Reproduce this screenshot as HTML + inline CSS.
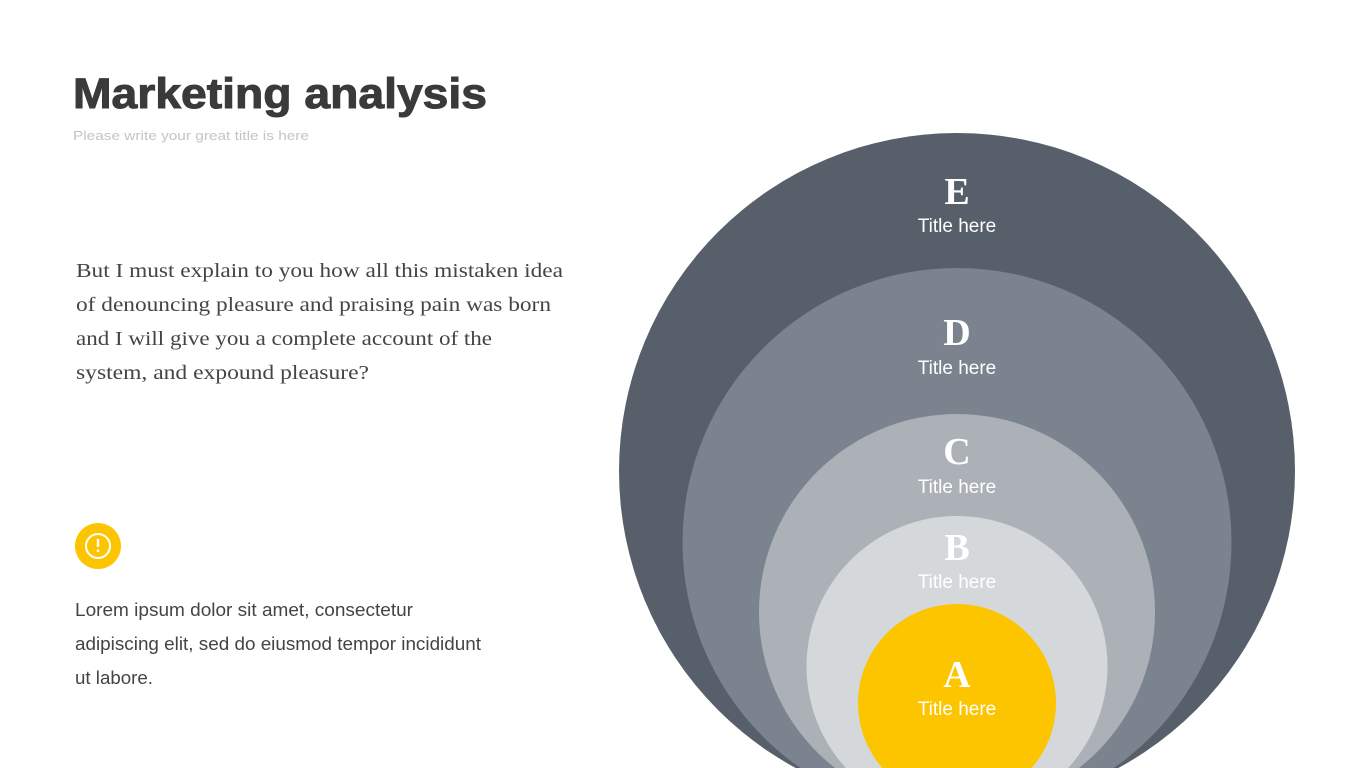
<!DOCTYPE html>
<html><head><meta charset="utf-8"><style>
html,body{margin:0;padding:0;background:#fff;width:1365px;height:768px;overflow:hidden}
svg{display:block}
</style></head><body>
<svg width="1365" height="768" viewBox="0 0 1365 768" xmlns="http://www.w3.org/2000/svg">
<text x="73" y="108" font-family="Liberation Sans, sans-serif" font-weight="bold" font-size="43" fill="#3a3a3a" stroke="#3a3a3a" stroke-width="1" textLength="414" lengthAdjust="spacingAndGlyphs">Marketing analysis</text>
<text x="73" y="140" font-family="Liberation Sans, sans-serif" font-size="13" fill="#c4c4c4" textLength="236" lengthAdjust="spacingAndGlyphs">Please write your great title is here</text>
<g font-family="Liberation Serif, serif" font-size="20" fill="#444">
<text x="76" y="277" textLength="487" lengthAdjust="spacingAndGlyphs">But I must explain to you how all this mistaken idea</text>
<text x="76" y="311" textLength="475" lengthAdjust="spacingAndGlyphs">of denouncing pleasure and praising pain was born</text>
<text x="76" y="345" textLength="416" lengthAdjust="spacingAndGlyphs">and I will give you a complete account of the</text>
<text x="76" y="379" textLength="293" lengthAdjust="spacingAndGlyphs">system, and expound pleasure?</text>
</g>
<circle cx="98" cy="546" r="23" fill="#fdc500"/>
<circle cx="98" cy="546" r="12" fill="none" stroke="#fff" stroke-width="2"/>
<rect x="96.8" y="539" width="2.4" height="8" fill="#fff"/>
<rect x="96.8" y="549.5" width="2.4" height="2.5" fill="#fff"/>
<g font-family="Liberation Sans, sans-serif" font-size="18" fill="#444">
<text x="75" y="616" textLength="338" lengthAdjust="spacingAndGlyphs">Lorem ipsum dolor sit amet, consectetur</text>
<text x="75" y="650" textLength="406" lengthAdjust="spacingAndGlyphs">adipiscing elit, sed do eiusmod tempor incididunt</text>
<text x="75" y="684" textLength="78" lengthAdjust="spacingAndGlyphs">ut labore.</text>
</g>
<circle cx="957" cy="471" r="338" fill="#57606a"/>
<circle cx="957" cy="542.5" r="274.5" fill="#7b848e"/>
<circle cx="957" cy="612" r="198" fill="#acb1b8"/>
<circle cx="957" cy="666.5" r="150.5" fill="#d4d8db"/>
<circle cx="957" cy="703" r="99" fill="#fdc500"/>
<g fill="#fff" text-anchor="middle">
<g font-family="Liberation Serif, serif" font-weight="bold" font-size="38">
<text x="957" y="204">E</text><text x="957" y="345">D</text><text x="957" y="464">C</text><text x="957" y="560">B</text><text x="957" y="687">A</text>
</g>
<g font-family="Liberation Sans, sans-serif" font-size="19">
<text x="957" y="232">Title here</text><text x="957" y="374">Title here</text><text x="957" y="493">Title here</text><text x="957" y="588">Title here</text><text x="957" y="715">Title here</text>
</g>
</g>
</svg>
</body></html>
